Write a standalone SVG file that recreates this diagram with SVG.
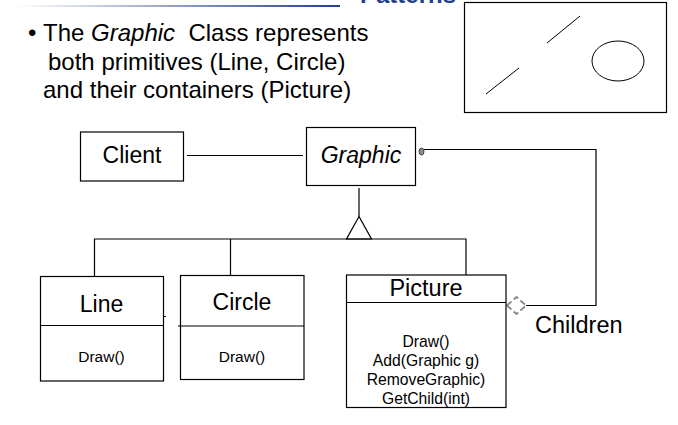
<svg xmlns="http://www.w3.org/2000/svg" width="678" height="425" viewBox="0 0 678 425">
<defs>
<linearGradient id="hdr" x1="0" y1="0" x2="1" y2="0">
<stop offset="0" stop-color="#ffffff"/>
<stop offset="1" stop-color="#1f3f8f"/>
</linearGradient>
</defs>
<style>
.t{font-family:"Liberation Sans",Arial,sans-serif;fill:#000}
.box{fill:#fff;stroke:#000;stroke-width:1.2}
.ln{fill:none;stroke:#000;stroke-width:1.2}
</style>
<rect width="678" height="425" fill="#fff"/>
<rect x="15" y="5" width="325" height="2" fill="url(#hdr)"/>
<text class="t" x="360" y="3" font-size="24" font-weight="bold" style="fill:#1f3f8f">Patterns</text>
<g id="bullet">
<text class="t" x="28" y="41" font-size="24">•</text>
<text class="t" x="43" y="41" font-size="24" xml:space="preserve">The <tspan font-style="italic">Graphic</tspan>  Class represents</text>
<text class="t" x="48" y="70" font-size="24">both primitives (Line, Circle)</text>
<text class="t" x="43" y="98" font-size="24">and their containers (Picture)</text>
</g>
<g id="sample">
<rect x="464.5" y="2.5" width="202" height="110" class="box"/>
<line x1="547" y1="43" x2="580" y2="16" stroke="#000" stroke-width="1"/>
<line x1="486" y1="94" x2="519" y2="68" stroke="#000" stroke-width="1"/>
<ellipse cx="618" cy="61" rx="26" ry="20" fill="none" stroke="#000" stroke-width="1"/>
</g>
<g id="connectors">
<line x1="187" y1="155.5" x2="303" y2="155.5" class="ln"/>
<polyline points="424,149.5 596,149.5 596,305.5 526,305.5" class="ln"/>
<ellipse cx="421.5" cy="151.5" rx="2.5" ry="3.5" fill="#888" stroke="#333" stroke-width="0.8"/>
<polygon points="507,305.5 516.5,297 526,305.5 516.5,314" fill="#fff" stroke="#888" stroke-width="1.8" stroke-dasharray="6,3"/>
<line x1="359" y1="188" x2="359" y2="216.5" class="ln"/>
<polygon points="359,216.5 346.5,239 371.5,239" fill="#fff" stroke="#000" stroke-width="1.2"/>
<polyline points="94.5,276.5 94.5,239 466,239 466,275" class="ln"/>
<line x1="230.5" y1="239" x2="230.5" y2="275.5" class="ln"/>
<line x1="163" y1="316.5" x2="166" y2="316.5" stroke="#000" stroke-width="1"/>
<line x1="178" y1="326" x2="181" y2="326" stroke="#000" stroke-width="1"/>
</g>
<g id="client">
<rect x="80.5" y="132" width="103" height="49" class="box"/>
<text class="t" x="132" y="163" font-size="23" text-anchor="middle">Client</text>
</g>
<g id="graphic">
<rect x="306.5" y="127.5" width="109" height="58" class="box"/>
<text class="t" x="361" y="163" font-size="23" font-style="italic" text-anchor="middle">Graphic</text>
</g>
<g id="line">
<rect x="40.5" y="276.5" width="123" height="104.5" class="box"/>
<line x1="40.5" y1="325.5" x2="163.5" y2="325.5" class="ln"/>
<text class="t" x="101.5" y="312" font-size="23" text-anchor="middle">Line</text>
<text class="t" x="101.5" y="362" font-size="15.5" text-anchor="middle">Draw()</text>
</g>
<g id="circle">
<rect x="180.5" y="275.5" width="123.5" height="104" class="box"/>
<line x1="180.5" y1="326" x2="304" y2="326" class="ln"/>
<text class="t" x="242" y="310" font-size="23" text-anchor="middle">Circle</text>
<text class="t" x="242" y="362" font-size="15.5" text-anchor="middle">Draw()</text>
</g>
<g id="picture">
<rect x="346.5" y="275" width="159.5" height="132.5" class="box"/>
<line x1="346.5" y1="302.5" x2="506" y2="302.5" class="ln"/>
<text class="t" x="426" y="296" font-size="23.5" text-anchor="middle">Picture</text>
<text class="t" x="426" y="347" font-size="15.7" text-anchor="middle">Draw()</text>
<text class="t" x="426" y="366" font-size="15.7" text-anchor="middle">Add(Graphic g)</text>
<text class="t" x="426" y="385" font-size="15.7" text-anchor="middle">RemoveGraphic)</text>
<text class="t" x="426" y="404" font-size="15.7" text-anchor="middle">GetChild(int)</text>
</g>
<text class="t" x="535" y="333" font-size="23.5">Children</text>
</svg>
